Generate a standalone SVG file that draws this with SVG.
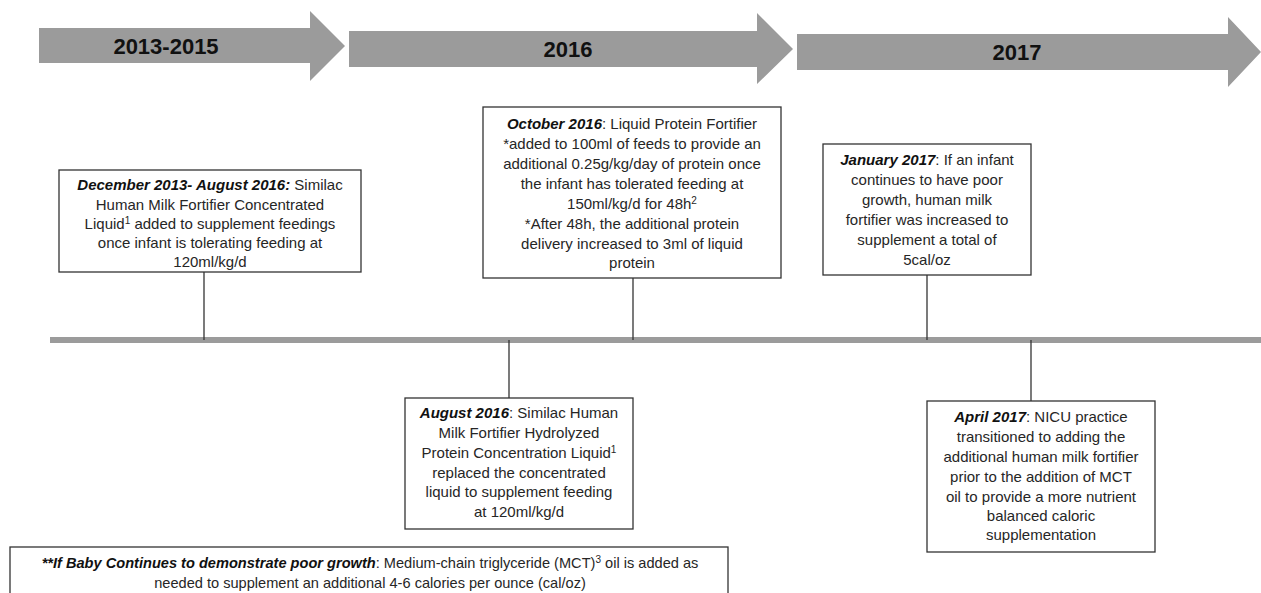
<svg xmlns="http://www.w3.org/2000/svg" width="1261" height="593" viewBox="0 0 1261 593">
<style>
.arrow{fill:#9b9b9b;}
.year{font-family:"Liberation Sans",Arial,sans-serif;font-weight:bold;font-size:22px;fill:#111;text-anchor:middle;}
.box{fill:#fff;stroke:#333;stroke-width:1.3;}
.t{font-family:"Liberation Sans",Arial,sans-serif;font-size:15px;fill:#262626;text-anchor:middle;}
.s{font-size:14.6px;}
.b{font-weight:bold;font-style:italic;fill:#111;}
.conn{stroke:#333;stroke-width:1.3;fill:none;}
.bar{fill:#9b9b9b;}
</style>
<rect width="1261" height="593" fill="#fff"/>
<g id="years">
<g id="y2013">
<polygon class="arrow" points="39,28 310,28 310,11 345,46 310,81 310,63 39,63"/>
<text class="year" x="166" y="54">2013-2015</text>
</g>
<g id="y2016">
<polygon class="arrow" points="349,31 757,31 757,13 793,49 757,84 757,67 349,67"/>
<text class="year" x="568" y="57">2016</text>
</g>
<g id="y2017">
<polygon class="arrow" points="797,34 1228,34 1228,17 1261,52 1228,87 1228,70 797,70"/>
<text class="year" x="1017" y="60">2017</text>
</g>
</g>
<rect id="timeline" class="bar" x="50" y="337" width="1211" height="6"/>
<g id="connectors">
<line class="conn" x1="204" y1="272" x2="204" y2="340"/>
<line class="conn" x1="633" y1="278" x2="633" y2="340"/>
<line class="conn" x1="927" y1="275" x2="927" y2="340"/>
<line class="conn" x1="509" y1="340" x2="509" y2="398"/>
<line class="conn" x1="1031" y1="340" x2="1031" y2="401"/>
</g>
<g id="n1">
<rect class="box" x="59" y="170" width="302" height="102"/>
<text class="t" x="210" y="190"><tspan class="b">December 2013- August 2016:</tspan> Similac</text>
<text class="t" x="210" y="209.5">Human Milk Fortifier Concentrated</text>
<text class="t" x="210" y="229">Liquid<tspan font-size="10" dy="-5">1</tspan><tspan dy="5"> added to supplement feedings</tspan></text>
<text class="t" x="210" y="248">once infant is tolerating feeding at</text>
<text class="t" x="210" y="267">120ml/kg/d</text>
</g>
<g id="n2">
<rect class="box" x="483" y="107" width="298" height="171"/>
<text class="t" x="632" y="129"><tspan class="b">October 2016</tspan>: Liquid Protein Fortifier</text>
<text class="t" x="632" y="149">*added to 100ml of feeds to provide an</text>
<text class="t" x="632" y="169">additional 0.25g/kg/day of protein once</text>
<text class="t" x="632" y="189">the infant has tolerated feeding at</text>
<text class="t" x="632" y="209">150ml/kg/d for 48h<tspan font-size="10" dy="-5">2</tspan></text>
<text class="t" x="632" y="229">*After 48h, the additional protein</text>
<text class="t" x="632" y="249">delivery increased to 3ml of liquid</text>
<text class="t" x="632" y="268">protein</text>
</g>
<g id="n3">
<rect class="box" x="823" y="144" width="208" height="131"/>
<text class="t" x="927" y="165"><tspan class="b">January 2017</tspan>: If an infant</text>
<text class="t" x="927" y="185">continues to have poor</text>
<text class="t" x="927" y="205">growth, human milk</text>
<text class="t" x="927" y="225">fortifier was increased to</text>
<text class="t" x="927" y="245">supplement a total of</text>
<text class="t" x="927" y="265">5cal/oz</text>
</g>
<g id="n4">
<rect class="box" x="405" y="398" width="228" height="131"/>
<text class="t" x="519" y="418"><tspan class="b">August 2016</tspan>: Similac Human</text>
<text class="t" x="519" y="438">Milk Fortifier Hydrolyzed</text>
<text class="t" x="519" y="458">Protein Concentration Liquid<tspan font-size="10" dy="-5">1</tspan></text>
<text class="t" x="519" y="478">replaced the concentrated</text>
<text class="t" x="519" y="497">liquid to supplement feeding</text>
<text class="t" x="519" y="517">at 120ml/kg/d</text>
</g>
<g id="n5">
<rect class="box" x="927" y="401" width="228" height="151"/>
<text class="t" x="1041" y="422"><tspan class="b">April 2017</tspan>: NICU practice</text>
<text class="t" x="1041" y="442">transitioned to adding the</text>
<text class="t" x="1041" y="462">additional human milk fortifier</text>
<text class="t" x="1041" y="482">prior to the addition of MCT</text>
<text class="t" x="1041" y="502">oil to provide a more nutrient</text>
<text class="t" x="1041" y="521">balanced caloric</text>
<text class="t" x="1041" y="540">supplementation</text>
</g>
<g id="n6">
<rect class="box" x="10" y="547" width="718" height="60"/>
<text class="t s" x="370" y="568"><tspan class="b">**If Baby Continues to demonstrate poor growth</tspan>: Medium-chain triglyceride (MCT)<tspan font-size="10" dy="-5">3</tspan><tspan dy="5"> oil is added as</tspan></text>
<text class="t s" x="370" y="588">needed to supplement an additional 4-6 calories per ounce (cal/oz)</text>
</g>
</svg>
